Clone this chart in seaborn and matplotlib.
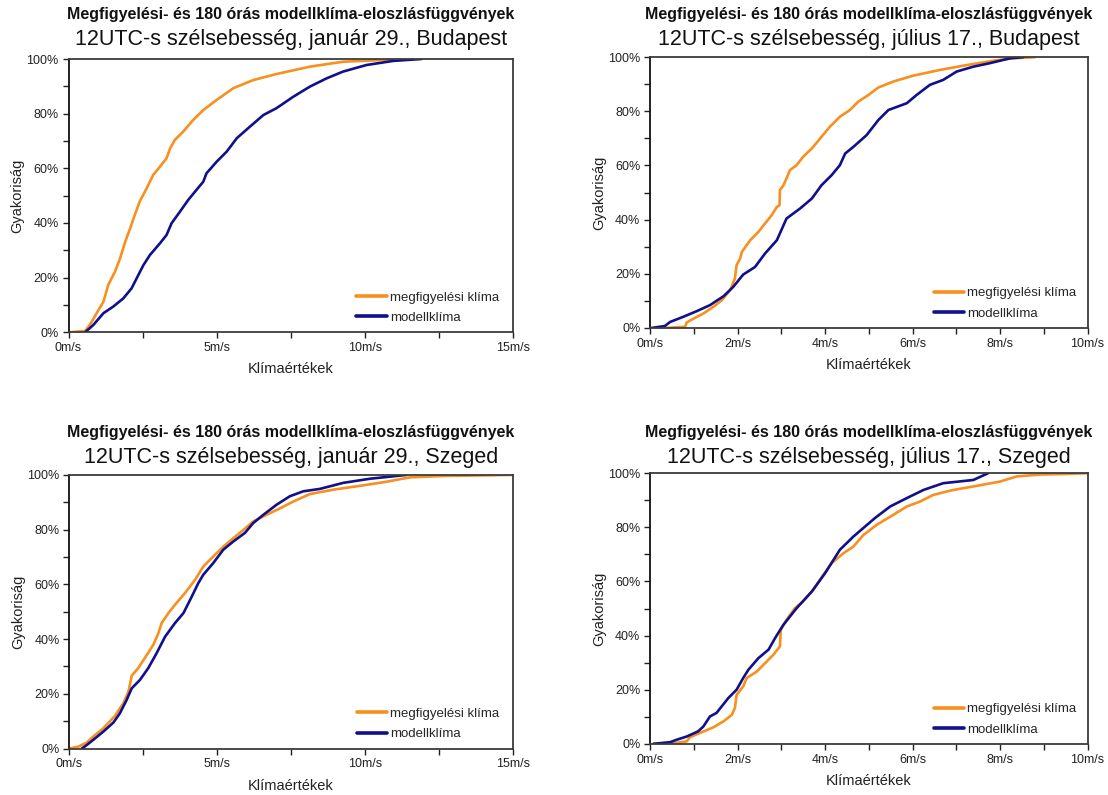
import matplotlib
matplotlib.use("Agg")
import matplotlib.pyplot as plt
import numpy as np
import pandas as pd
import seaborn as sns
from matplotlib.ticker import FixedLocator, MultipleLocator

# ---------------------------------------------------------------------------
# Empirical distribution functions of 12 UTC wind speed (m/s, cumulative %)
# ---------------------------------------------------------------------------

# Budapest, January 29
bp_jan_obs_x = [0.05, 0.56, 0.72, 0.95, 1.18, 1.34, 1.57, 1.74, 1.91, 2.08, 2.24, 2.41, 2.64,
                2.86, 3.09, 3.31, 3.43, 3.59, 3.87, 4.21, 4.55, 5.00, 5.56, 6.24, 7.02, 8.15,
                9.27, 10.96]
bp_jan_obs_y = [0.0, 0.5, 2.7, 7.0, 11.2, 17.3, 22.2, 27.0, 33.0, 38.0, 43.0, 48.0, 52.7,
                57.6, 60.6, 63.7, 67.3, 70.4, 73.4, 77.7, 81.3, 85.0, 89.3, 92.3, 94.5, 97.2,
                99.0, 99.8]
bp_jan_mod_x = [0.56, 0.84, 1.18, 1.51, 1.85, 2.13, 2.36, 2.53, 2.75, 3.09, 3.31, 3.48, 3.76,
                4.04, 4.32, 4.55, 4.66, 5.00, 5.34, 5.68, 6.12, 6.58, 7.02, 7.59, 8.15, 8.71,
                9.27, 10.06, 10.96, 11.92]
bp_jan_mod_y = [0.0, 2.7, 7.0, 9.4, 12.4, 16.1, 21.0, 24.6, 28.3, 32.6, 35.6, 39.9, 44.1,
                48.4, 52.1, 55.1, 58.2, 62.4, 66.1, 71.0, 75.2, 79.5, 82.0, 86.2, 89.9, 92.9,
                95.4, 97.8, 99.3, 100.0]

# Budapest, July 17
bp_jul_obs_x = [0.38, 0.80, 0.84, 0.99, 1.22, 1.45, 1.64, 1.83, 1.94, 1.98, 2.06, 2.10, 2.29,
                2.48, 2.63, 2.78, 2.90, 2.96, 2.97, 3.05, 3.12, 3.20, 3.35, 3.50, 3.70, 3.89,
                4.11, 4.34, 4.57, 4.76, 4.99, 5.22, 5.56, 6.02, 6.63, 7.24, 7.85, 8.30, 8.80]
bp_jul_obs_y = [0.0, 0.4, 2.0, 3.4, 5.3, 7.8, 10.2, 13.9, 18.2, 23.2, 25.6, 28.1, 32.4,
                35.5, 38.6, 41.6, 44.7, 45.3, 50.9, 52.7, 55.2, 58.3, 60.1, 63.2, 66.3, 70.0,
                74.3, 78.0, 80.5, 83.6, 86.0, 88.8, 91.0, 93.2, 95.3, 97.1, 98.7, 99.6, 100.0]
bp_jul_mod_x = [0.04, 0.34, 0.46, 0.76, 1.07, 1.37, 1.68, 1.90, 2.13, 2.40, 2.63, 2.90, 3.12,
                3.43, 3.70, 3.92, 4.15, 4.34, 4.46, 4.65, 4.95, 5.22, 5.45, 5.87, 6.09, 6.40,
                6.70, 7.01, 7.39, 7.77, 8.23, 8.53]
bp_jul_mod_y = [0.0, 0.7, 2.2, 4.1, 6.2, 8.4, 11.7, 15.1, 19.7, 22.5, 27.5, 32.4, 40.4,
                44.1, 47.8, 52.7, 56.4, 60.1, 64.4, 66.9, 71.2, 76.8, 80.5, 83.0, 86.0, 89.8,
                91.6, 94.7, 96.5, 97.8, 99.6, 100.0]

# Szeged, January 29
sz_jan_obs_x = [0.00, 0.30, 0.59, 0.81, 1.15, 1.54, 1.83, 2.00, 2.11, 2.33, 2.62, 2.84, 3.01,
                3.12, 3.35, 3.57, 3.91, 4.25, 4.53, 4.87, 5.21, 5.55, 5.89, 6.22, 6.67, 7.13,
                7.58, 8.14, 8.93, 9.83, 10.73, 11.52, 12.65, 13.90, 15.00]
sz_jan_obs_y = [0.0, 0.7, 2.2, 4.4, 7.4, 11.9, 16.6, 20.8, 26.6, 29.4, 34.2, 37.9, 42.1,
                45.8, 49.5, 52.5, 56.8, 61.6, 66.5, 70.2, 73.8, 76.9, 79.9, 83.0, 85.4, 87.8,
                90.3, 93.0, 94.6, 96.0, 97.5, 99.1, 99.6, 99.8, 100.0]
sz_jan_mod_x = [0.42, 0.59, 0.81, 1.15, 1.49, 1.71, 1.94, 2.11, 2.39, 2.67, 2.95, 3.24, 3.57,
                3.86, 4.14, 4.36, 4.53, 4.87, 5.21, 5.55, 5.94, 6.22, 6.56, 7.01, 7.46, 7.91,
                8.48, 9.27, 10.17, 11.41]
sz_jan_mod_y = [0.0, 1.3, 3.2, 6.2, 9.5, 12.9, 17.8, 22.0, 25.1, 29.4, 34.8, 40.9, 45.8,
                49.5, 55.5, 60.4, 63.5, 67.8, 72.7, 75.7, 78.8, 82.4, 85.4, 89.1, 92.2, 94.0,
                94.9, 97.1, 98.6, 100.0]

# Szeged, July 17
sz_jul_obs_x = [0.08, 0.53, 0.84, 0.91, 1.14, 1.45, 1.68, 1.87, 1.94, 1.98, 2.13, 2.21, 2.44,
                2.63, 2.82, 2.97, 2.99, 3.12, 3.31, 3.50, 3.73, 3.96, 4.15, 4.42, 4.65, 4.88,
                5.18, 5.56, 5.87, 6.17, 6.48, 6.93, 7.39, 8.00, 8.38, 8.91, 9.49, 10.00]
sz_jul_obs_y = [0.0, 0.2, 0.9, 2.4, 4.0, 6.1, 8.3, 10.7, 13.2, 18.1, 21.2, 24.3, 26.7,
                29.8, 32.9, 36.0, 42.1, 45.8, 50.1, 52.6, 56.9, 62.4, 66.7, 70.4, 72.9, 77.2,
                80.9, 84.6, 87.7, 89.5, 92.0, 93.8, 95.1, 96.9, 98.8, 99.5, 99.7, 100.0]
sz_jul_mod_x = [0.08, 0.46, 0.61, 0.84, 1.10, 1.22, 1.37, 1.52, 1.79, 1.98, 2.13, 2.25, 2.48,
                2.71, 2.86, 3.05, 3.35, 3.70, 4.00, 4.34, 4.65, 5.14, 5.49, 5.87, 6.25, 6.70,
                7.39, 7.73]
sz_jul_mod_y = [0.0, 0.6, 1.5, 2.7, 4.6, 6.4, 10.1, 11.4, 16.9, 20.0, 24.3, 27.4, 31.7,
                34.8, 39.1, 44.0, 50.1, 56.3, 63.0, 71.7, 76.6, 83.4, 87.7, 90.8, 93.8, 96.3,
                97.5, 100.0]

# Texts and tick labels
series_names = ["megfigyelési klíma", "modellklíma"]
main_title = "Megfigyelési- és 180 órás modellklíma-eloszlásfüggvények"
subtitles = [
    "12UTC-s szélsebesség, január 29., Budapest",
    "12UTC-s szélsebesség, július 17., Budapest",
    "12UTC-s szélsebesség, január 29., Szeged",
    "12UTC-s szélsebesség, július 17., Szeged",
]
x_ticks_jan = [0, 5, 10, 15]
x_labels_jan = ["0m/s", "5m/s", "10m/s", "15m/s"]
x_ticks_jul = [0, 2, 4, 6, 8, 10]
x_labels_jul = ["0m/s", "2m/s", "4m/s", "6m/s", "8m/s", "10m/s"]
y_ticks = [0, 20, 40, 60, 80, 100]
y_labels = ["0%", "20%", "40%", "60%", "80%", "100%"]
x_label = "Klímaértékek"
y_label = "Gyakoriság"

ORANGE = "#F7901E"
NAVY = "#10108C"
SPINE = "#3C3C3C"

sns.set_theme(style="ticks")
plt.rcParams["font.family"] = ["Liberation Sans", "DejaVu Sans"]

W, H = 1108, 795
fig = plt.figure(figsize=(W / 100, H / 100), dpi=100)
fig.patch.set_facecolor("white")

# panel layout in pixels: left, right, top, bottom of the plotting box
panels = [
    dict(box=(68.5, 512.8, 59.0, 332.3), title_y=(15, 40),
         obs=(bp_jan_obs_x, bp_jan_obs_y), mod=(bp_jan_mod_x, bp_jan_mod_y),
         xt=x_ticks_jan, xl=x_labels_jan, minor=2.5, sub=subtitles[0]),
    dict(box=(650.0, 1087.5, 57.2, 327.9), title_y=(15, 40),
         obs=(bp_jul_obs_x, bp_jul_obs_y), mod=(bp_jul_mod_x, bp_jul_mod_y),
         xt=x_ticks_jul, xl=x_labels_jul, minor=1.0, sub=subtitles[1]),
    dict(box=(69.3, 512.8, 474.9, 748.6), title_y=(432, 457),
         obs=(sz_jan_obs_x, sz_jan_obs_y), mod=(sz_jan_mod_x, sz_jan_mod_y),
         xt=x_ticks_jan, xl=x_labels_jan, minor=2.5, sub=subtitles[2]),
    dict(box=(650.0, 1087.5, 473.2, 743.8), title_y=(432, 457),
         obs=(sz_jul_obs_x, sz_jul_obs_y), mod=(sz_jul_mod_x, sz_jul_mod_y),
         xt=x_ticks_jul, xl=x_labels_jul, minor=1.0, sub=subtitles[3]),
]

for p in panels:
    l, r, t, b = p["box"]
    ax = fig.add_axes([l / W, 1 - b / H, (r - l) / W, (b - t) / H])
    ax.set_facecolor("white")

    df = pd.concat([
        pd.DataFrame({"x": p["obs"][0], "y": p["obs"][1], "sorozat": series_names[0]}),
        pd.DataFrame({"x": p["mod"][0], "y": p["mod"][1], "sorozat": series_names[1]}),
    ], ignore_index=True)

    sns.lineplot(data=df, x="x", y="y", hue="sorozat", hue_order=series_names,
                 palette=[ORANGE, NAVY], sort=False, estimator=None,
                 linewidth=1.9, ax=ax)

    ax.set_xlim(p["xt"][0], p["xt"][-1])
    ax.set_ylim(0, 100)
    ax.xaxis.set_major_locator(FixedLocator(p["xt"]))
    ax.set_xticklabels(p["xl"])
    ax.xaxis.set_minor_locator(MultipleLocator(p["minor"]))
    ax.yaxis.set_major_locator(FixedLocator(y_ticks))
    ax.set_yticklabels(y_labels)
    ax.yaxis.set_minor_locator(MultipleLocator(10))

    ax.tick_params(which="both", direction="out", length=4, width=1.0, color="#202020",
                   bottom=True, left=True, top=False, right=False)
    ax.tick_params(which="major", labelsize=9, labelcolor="#222222", pad=3)

    for s in ax.spines.values():
        s.set_visible(True)
        s.set_color(SPINE)
        s.set_linewidth(1.3)
    ax.spines["left"].set_color("#111111")

    ax.set_xlabel(x_label, fontsize=10.5, color="#222222")
    ax.set_ylabel(y_label, fontsize=10.5, color="#222222")
    ax.xaxis.set_label_coords(0.5, -30 / (b - t))
    ax.yaxis.set_label_coords(-44 / (r - l), 0.5)

    sns.move_legend(ax, "lower left", bbox_to_anchor=(0.648, 0.03), frameon=False,
                    title=None, fontsize=9.5, handlelength=2.3, handletextpad=0.25,
                    labelspacing=0.62, borderpad=0, borderaxespad=0)
    for h in ax.get_legend().get_lines():
        h.set_linewidth(2.6)

    cx = (l + r) / 2 / W
    fig.text(cx, 1 - p["title_y"][0] / H, main_title, ha="center", va="center",
             fontsize=11.5, fontweight="bold", color="#111111")
    fig.text(cx, 1 - p["title_y"][1] / H, p["sub"], ha="center", va="center",
             fontsize=15.5, color="#111111")

fig.savefig("out.png", dpi=100, facecolor="white")
